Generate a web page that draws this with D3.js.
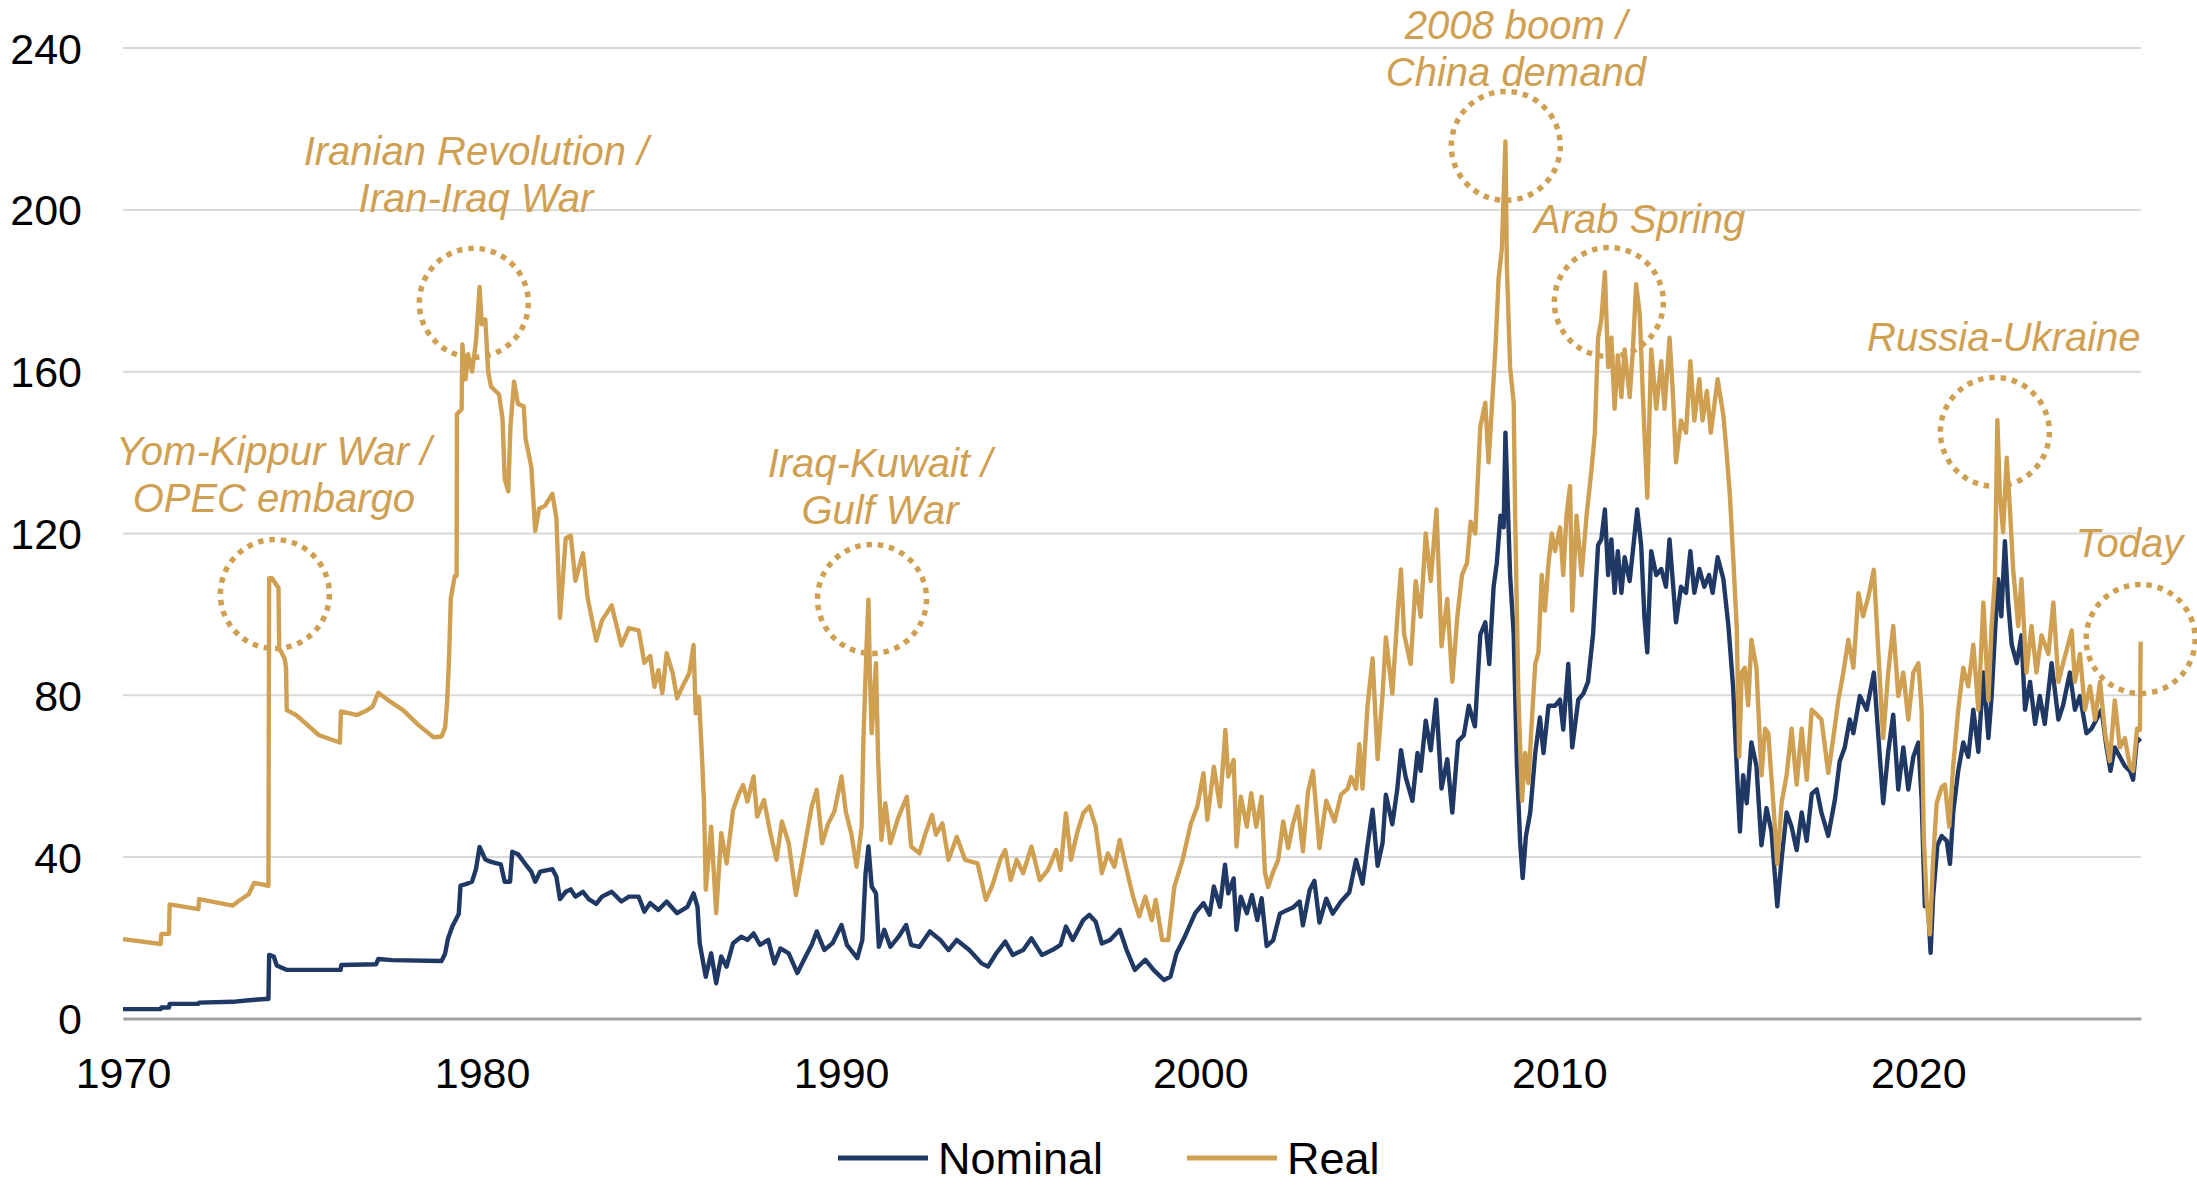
<!DOCTYPE html>
<html>
<head>
<meta charset="utf-8">
<script src="https://cdn.jsdelivr.net/npm/d3@7"></script>
<style>
  body { margin: 0; background: #fff; }
  text { font-family: Arial, "Liberation Sans", sans-serif; }
</style>
</head>
<body>
<svg id="chart"></svg>
<script>
// oil price, nominal and real ($/bbl)

var nominalYears = [1970.00,1971.05,1971.07,1971.28,1971.30,1972.10,1972.12,1973.06,1973.50,1973.97,1974.05,1974.07,1974.20,1974.28,1974.55,1976.06,1976.08,1977.05,1977.11,1977.50,1978.87,1978.97,1979.05,1979.17,1979.35,1979.40,1979.55,1979.72,1979.83,1979.93,1980.09,1980.25,1980.52,1980.63,1980.78,1980.84,1981.00,1981.21,1981.37,1981.48,1981.62,1981.96,1982.07,1982.17,1982.33,1982.47,1982.60,1982.81,1982.97,1983.18,1983.34,1983.61,1983.88,1984.09,1984.36,1984.52,1984.68,
  1984.91,1985.14,1985.43,1985.72,1985.89,1986.00,1986.06,1986.23,1986.38,1986.52,1986.66,1986.81,1986.99,1987.22,1987.39,1987.56,1987.74,1987.97,1988.14,1988.31,1988.54,1988.78,1989.01,1989.18,1989.32,1989.53,1989.76,1990.01,1990.16,1990.45,1990.59,1990.68,1990.76,1990.85,1990.97,1991.05,1991.20,1991.37,1991.60,1991.81,1991.95,1992.18,1992.47,1992.76,1992.99,1993.22,1993.57,1993.91,1994.09,1994.32,1994.57,1994.78,1995.07,1995.30,1995.59,1995.88,1996.11,1996.26,1996.45,1996.74,1996.91,1997.09,1997.26,1997.49,1997.76,1997.95,1998.18,1998.47,1998.70,1998.99,1999.17,1999.34,1999.57,1999.86,2000.09,2000.26,2000.38,2000.55,2000.69,2000.78,2000.93,2001.01,2001.13,2001.30,2001.44,2001.59,2001.71,2001.85,
  2002.03,2002.22,2002.40,2002.58,2002.77,2002.86,2003.05,2003.18,2003.32,2003.51,2003.69,2003.92,2004.15,2004.34,2004.52,2004.66,2004.80,2004.94,2005.08,2005.17,2005.35,2005.49,2005.59,2005.72,2005.91,2006.05,2006.14,2006.28,2006.42,2006.57,2006.72,2006.88,2007.02,2007.18,2007.34,2007.48,2007.65,2007.80,2007.94,2008.05,2008.17,2008.26,2008.36,2008.45,2008.50,2008.57,2008.63,2008.73,2008.82,2008.91,2008.98,2009.07,2009.19,2009.33,2009.46,2009.56,2009.70,2009.88,2010.02,2010.11,2010.25,2010.36,2010.53,2010.67,2010.80,2010.94,2011.08,2011.17,2011.27,2011.36,2011.45,2011.54,2011.63,2011.73,2011.82,2011.96,2012.10,2012.17,2012.28,2012.37,2012.45,2012.56,2012.70,2012.84,2012.97,2013.07,2013.25,2013.39,2013.53,2013.65,2013.76,2013.90,2014.04,2014.17,2014.27,2014.41,
  2014.57,2014.71,2014.84,2014.94,2015.03,2015.12,2015.22,2015.35,2015.49,2015.63,2015.77,2015.91,2016.07,2016.19,2016.33,2016.47,2016.61,2016.75,2016.89,2017.03,2017.17,2017.30,2017.49,2017.68,2017.81,2017.95,2018.09,2018.19,2018.37,2018.56,2018.76,2018.88,2019.02,2019.16,2019.30,2019.44,2019.58,2019.72,2019.86,2020.00,2020.09,2020.18,2020.27,2020.34,2020.41,2020.53,2020.65,2020.79,2020.88,2020.97,2021.11,2021.25,2021.39,2021.53,2021.67,2021.81,2021.95,2022.04,2022.13,2022.22,2022.31,2022.41,2022.50,2022.60,2022.74,2022.87,2022.97,2023.11,2023.25,2023.38,2023.52,2023.71,2023.90,2024.03,2024.22,2024.36,2024.50,2024.68,2024.82,2024.96,2025.10,2025.24,2025.35,2025.47,2025.61,2025.75,2025.89,2025.98,2026.09,2026.19];
var nominalValues = [2.3,2.3,2.7,2.7,3.6,3.6,3.9,4.1,4.5,4.8,4.8,15.7,15.3,13.1,12.0,12.0,13.2,13.4,14.7,14.4,14.2,16.0,19.7,22.7,25.8,32.8,33.2,33.8,36.9,42.4,39.3,38.7,38.1,33.8,33.8,41.2,40.6,38.1,36.3,33.8,36.3,36.9,35.0,29.5,31.3,31.9,30.1,31.3,29.5,28.3,30.1,31.3,28.9,30.1,30.1,26.4,28.5,
  26.8,28.9,26.0,27.6,30.9,27.6,18.6,10.3,16.1,8.7,15.3,12.8,18.6,20.2,19.4,21.0,18.2,19.4,13.6,17.3,16.1,11.2,15.3,18.2,21.5,16.9,18.6,23.1,18.2,14.9,19.4,35.9,42.5,32.6,30.9,17.7,21.9,17.7,20.2,23.1,18.2,17.7,21.5,19.4,16.9,19.4,16.9,13.6,12.8,16.1,19.0,15.7,16.9,19.8,15.7,16.9,18.2,22.7,19.4,24.3,25.6,23.9,18.5,19.4,21.9,16.9,12.0,14.5,12.0,9.5,10.3,16.1,20.2,26.0,28.5,25.6,32.6,27.6,38.0,30.9,34.6,21.9,30.1,26.0,30.5,24.3,29.7,17.9,
  19.3,25.9,26.7,27.4,28.9,23.0,31.8,34.0,23.7,29.6,25.9,28.9,31.1,39.2,33.3,42.8,51.6,37.7,43.5,55.3,48.0,56.8,66.3,59.7,53.8,65.6,61.2,73.6,66.3,78.8,56.8,64.1,50.9,68.5,70.0,77.3,72.2,94.9,97.9,87.6,106.7,112.6,124.3,121.4,144.8,125.8,109.6,94.9,62.6,43.5,34.7,45.0,50.9,65.6,74.4,65.6,77.3,77.3,78.8,71.4,87.6,67.0,78.8,80.3,83.2,94.9,117.0,118.4,125.8,109.6,118.4,105.2,115.5,105.2,114.0,108.1,119.9,125.8,117.0,99.3,90.5,115.5,109.6,111.1,106.7,118.4,97.9,106.7,105.2,115.5,105.2,111.1,106.7,109.6,105.2,114.0,
  108.6,97.0,82.0,62.4,46.2,60.1,53.2,68.2,62.4,42.8,52.0,46.2,27.7,39.3,50.9,47.4,41.6,50.9,43.9,55.5,56.6,50.9,45.1,54.3,63.6,67.0,73.9,70.5,79.7,76.3,85.5,70.5,53.2,65.9,75.1,56.6,67.0,56.6,64.7,68.2,54.3,27.7,27.7,16.2,30.0,42.8,45.1,43.9,38.2,50.9,61.2,68.2,64.7,76.3,65.9,85.5,69.3,79.7,94.7,108.6,99.4,118.0,102.8,92.4,87.8,94.7,76.3,83.2,72.8,79.7,72.8,87.8,73.9,77.4,85.5,76.3,79.7,70.5,71.6,73.9,76.3,67.0,61.2,67.0,64.7,62.4,61.2,59.0,69.3,68.5];

var realYears = [1970.00,1971.05,1971.07,1971.28,1971.30,1972.10,1972.12,1973.06,1973.20,1973.50,1973.65,1974.05,1974.07,1974.15,1974.33,1974.35,1974.50,1974.54,1974.56,1974.82,1975.14,1975.46,1976.04,1976.07,1976.52,1976.80,1976.95,1977.11,1977.38,1977.80,1978.23,1978.65,1978.87,1978.97,1979.03,1979.08,1979.13,1979.24,1979.29,1979.30,1979.43,1979.45,1979.54,1979.61,1979.72,1979.83,1979.93,1979.99,1980.09,1980.17,1980.25,1980.47,1980.57,1980.63,1980.73,1980.79,1980.89,1981.00,1981.16,1981.21,1981.37,1981.48,1981.59,1981.75,1981.96,1982.07,1982.17,1982.33,1982.47,1982.60,1982.81,1982.94,1983.18,1983.34,1983.61,1983.88,1984.09,1984.36,1984.52,1984.68,
  1984.80,1984.91,1985.02,1985.14,1985.31,1985.43,1985.60,1985.77,1985.89,1985.95,1986.04,1986.12,1986.18,1986.23,1986.38,1986.52,1986.66,1986.81,1986.99,1987.16,1987.27,1987.39,1987.56,1987.66,1987.85,1988.03,1988.20,1988.35,1988.54,1988.74,1988.95,1989.18,1989.32,1989.47,1989.64,1989.81,1990.01,1990.13,1990.28,1990.43,1990.57,1990.62,1990.70,1990.76,1990.80,1990.85,1990.97,1991.03,1991.12,1991.23,1991.37,1991.60,1991.83,1991.95,1992.18,1992.35,1992.53,1992.64,1992.82,1992.99,1993.22,1993.45,1993.80,1994.03,1994.20,1994.43,1994.57,1994.72,1994.89,1995.07,1995.30,1995.53,1995.76,1995.99,1996.11,1996.26,1996.40,1996.57,1996.74,1996.91,1997.09,1997.26,1997.43,1997.61,1997.76,1997.93,1998.13,1998.30,1998.47,1998.65,1998.76,1998.94,1999.11,1999.28,1999.51,1999.74,1999.92,2000.09,2000.20,2000.38,2000.55,2000.70,2000.78,2000.93,2001.01,2001.13,2001.30,2001.42,2001.56,2001.71,
  2001.80,2001.89,2002.03,2002.17,2002.31,2002.45,2002.58,2002.72,2002.86,2003.00,2003.14,2003.32,2003.51,2003.74,2003.92,2004.11,2004.20,2004.34,2004.43,2004.52,2004.66,2004.80,2004.94,2005.08,2005.17,2005.35,2005.49,2005.59,2005.68,2005.86,2006.00,2006.14,2006.28,2006.42,2006.58,2006.72,2006.88,2007.02,2007.16,2007.29,2007.43,2007.53,2007.66,2007.80,2007.94,2008.03,2008.13,2008.22,2008.31,2008.40,2008.50,2008.54,2008.63,2008.73,2008.77,2008.86,2008.96,2009.05,2009.14,2009.23,2009.33,2009.42,2009.51,2009.60,2009.70,2009.79,2009.88,2010.02,2010.11,2010.20,2010.30,2010.36,2010.48,2010.62,2010.76,2010.90,2010.99,2011.08,2011.17,2011.27,2011.36,2011.45,2011.54,2011.63,2011.73,2011.82,2011.96,2012.05,2012.14,2012.24,2012.33,2012.45,2012.56,2012.70,2012.84,2012.93,2013.07,2013.16,2013.25,2013.39,2013.53,2013.65,2013.76,2013.90,2013.99,2014.11,2014.22,2014.41,
  2014.57,2014.66,2014.75,2014.84,2014.94,2015.01,2015.08,2015.17,2015.26,2015.35,2015.49,2015.63,2015.73,2015.82,2015.96,2016.07,2016.19,2016.33,2016.47,2016.61,2016.75,2016.89,2017.03,2017.17,2017.30,2017.49,2017.63,2017.77,2017.91,2018.05,2018.19,2018.33,2018.46,2018.60,2018.76,2018.88,2019.02,2019.16,2019.30,2019.44,2019.58,2019.72,2019.86,2020.00,2020.09,2020.15,2020.23,2020.32,2020.41,2020.51,2020.65,2020.74,2020.86,2020.97,2021.11,2021.25,2021.39,2021.53,2021.67,2021.81,2021.95,2022.04,2022.13,2022.20,2022.27,2022.36,2022.46,2022.55,2022.64,2022.78,2022.87,2023.01,2023.15,2023.29,2023.43,2023.62,2023.76,2023.90,2024.03,2024.17,2024.27,2024.36,2024.50,2024.64,2024.78,2024.92,2025.06,2025.20,2025.33,2025.47,2025.61,2025.75,2025.89,2025.98,2026.09,2026.17,2026.19];
var realValues = [19.6,18.4,20.9,20.9,28.2,27.0,29.5,27.9,28.9,30.7,33.5,32.8,108.8,108.8,106.4,91.6,89.0,86.7,76.2,75.0,72.5,70.0,68.2,75.9,75.0,76.2,77.1,80.5,78.7,76.2,72.5,69.5,69.7,71.9,78.7,89.1,103.9,109.4,109.4,149.4,150.6,166.6,158.0,164.2,159.9,167.2,180.8,171.6,172.8,159.9,156.2,154.3,148.2,133.4,130.3,146.3,157.4,151.9,151.3,143.3,136.5,120.5,126.0,126.7,129.7,123.6,99.0,118.7,119.3,108.2,115.0,103.9,93.4,98.4,102.1,92.2,96.5,95.9,87.9,89.6,
  82.0,86.1,80.4,90.3,85.3,79.1,82.4,85.3,92.3,75.4,79.5,65.5,53.2,31.8,47.4,26.0,45.8,38.3,51.5,55.7,57.7,53.6,59.8,49.9,54.0,45.8,39.2,48.7,43.3,30.5,40.8,52.4,56.5,43.3,48.2,51.1,59.8,51.1,45.8,37.5,47.4,68.8,90.3,103.5,85.0,70.5,87.8,63.9,44.1,53.2,43.3,49.9,54.8,42.5,40.8,45.8,50.3,45.4,48.2,39.2,44.9,39.2,38.3,29.3,32.6,39.2,41.6,34.2,39.2,35.9,42.5,34.2,36.7,41.6,36.7,50.7,39.2,45.8,50.7,52.4,47.4,35.9,40.8,37.5,44.1,37.5,30.1,25.2,30.1,24.3,29.3,19.4,19.4,32.6,39.2,48.2,52.4,60.6,49.1,62.2,52.4,71.3,59.8,63.9,42.5,54.8,47.4,55.7,47.4,54.8,
  36.2,32.5,36.2,39.1,48.7,42.1,48.0,52.4,41.3,56.0,61.2,42.1,53.8,48.7,55.3,56.8,59.7,56.8,67.8,56.8,77.3,89.0,64.1,80.3,94.2,80.3,99.3,111.0,94.9,87.6,108.1,99.3,119.9,108.1,125.8,92.0,103.7,83.2,99.3,109.6,112.6,122.8,119.9,146.3,152.2,137.5,152.2,165.4,183.0,190.3,216.8,185.9,161.0,152.2,124.3,80.3,53.8,65.6,58.2,72.9,87.6,90.5,109.6,100.8,112.6,119.9,115.5,121.4,109.6,124.3,131.6,100.8,124.3,109.6,124.3,136.0,144.8,168.3,172.7,184.5,161.0,168.3,150.7,163.9,153.6,165.4,153.6,165.4,181.5,174.2,153.6,128.7,165.4,150.7,162.5,150.7,168.3,155.1,137.5,147.8,144.8,162.5,147.8,158.0,147.8,155.1,144.8,158.0,
  149.0,139.8,129.4,114.4,97.0,64.7,85.5,86.7,77.4,93.6,86.7,60.1,71.6,70.5,53.2,38.2,53.2,60.1,71.6,57.8,71.6,59.0,76.3,75.1,73.9,60.7,69.3,78.6,85.5,93.6,86.7,105.1,99.4,104.0,110.9,91.3,69.3,85.5,97.0,79.7,85.5,73.9,85.5,87.8,76.3,45.1,28.9,20.8,39.3,53.2,57.2,57.8,47.4,62.4,76.3,86.7,82.1,92.4,76.3,102.8,78.6,97.0,108.6,147.9,129.4,120.2,138.6,125.9,110.9,97.0,108.6,85.5,97.0,85.5,94.7,90.1,102.8,83.2,87.8,92.4,95.9,83.2,90.1,76.3,82.1,73.9,83.2,70.5,63.6,78.6,67.0,69.3,62.4,61.2,71.6,71.3,93.1];

var seriesNames = ["Nominal", "Real"];
var seriesColors = ["#1F3864", "#CFA052"];

var yTicks = [0, 40, 80, 120, 160, 200, 240];
var xTicks = [1970, 1980, 1990, 2000, 2010, 2020];

// events: circle centre (year, value) and label anchor (year, value of first baseline)
var eventLabels = [
  ["Yom-Kippur War /", "OPEC embargo"],
  ["Iranian Revolution /", "Iran-Iraq War"],
  ["Iraq-Kuwait /", "Gulf War"],
  ["2008 boom /", "China demand"],
  ["Arab Spring"],
  ["Russia-Ukraine"],
  ["Today"]
];
var eventYears  = [1974.23, 1979.77, 1990.86, 2008.51, 2011.38, 2022.13, 2026.19];
var eventValues = [104.9, 176.9, 103.7, 215.7, 177.1, 145.0, 93.8];
var labelYears  = [1974.20, 1979.83, 1991.08, 2008.79, 2012.24, 2022.38, 2025.88];
var labelValues = [136.7, 211.0, 133.8, 242.1, 194.2, 165.0, 114.1];

// layout
var svgWidth = 2197, svgHeight = 1192;
var plotLeft = 123, plotRight = 2141, plotTop = 47.6, plotBottom = 1018.4;

var svg = d3.select('#chart')
    .attr('width', svgWidth)
    .attr('height', svgHeight);

var x = d3.scaleLinear().domain([1970, 2026.2]).range([plotLeft, plotRight]);
var y = d3.scaleLinear().domain([0, 240]).range([plotBottom, plotTop]);

// gridlines + y labels
var yAxis = svg.append('g')
    .attr('transform', 'translate(' + plotLeft + ',0)')
    .call(d3.axisLeft(y).tickValues(yTicks).tickSize(-(plotRight - plotLeft)).tickPadding(41));
yAxis.select('.domain').remove();
yAxis.selectAll('line').attr('stroke', '#d9d9d9').attr('stroke-width', 2);
yAxis.selectAll('text')
    .attr('font-size', 43)
    .attr('fill', '#000')
    .attr('dy', '0.36em');

// x axis
var xAxis = svg.append('g')
    .attr('transform', 'translate(0,' + plotBottom + ')')
    .call(d3.axisBottom(x).tickValues(xTicks).tickFormat(d3.format('d')).tickSize(0).tickPadding(39));
xAxis.select('.domain').attr('stroke', '#a0a0a0').attr('stroke-width', 3);
xAxis.selectAll('text').attr('font-size', 43).attr('fill', '#000');

// lines
var line = d3.line()
    .x(function(d){ return x(d[0]); })
    .y(function(d){ return y(d[1]); });

var series = [
    d3.zip(nominalYears, nominalValues),
    d3.zip(realYears, realValues)
];

svg.selectAll('path.series')
    .data(series)
    .enter()
    .append('path')
    .attr('class', 'series')
    .attr('d', line)
    .attr('fill', 'none')
    .attr('stroke', function(d, i){ return seriesColors[i]; })
    .attr('stroke-width', 4.4)
    .attr('stroke-linejoin', 'round');

// event circles
svg.selectAll('circle.event')
    .data(eventYears)
    .enter()
    .append('circle')
    .attr('class', 'event')
    .attr('cx', function(d){ return x(d); })
    .attr('cy', function(d, i){ return y(eventValues[i]); })
    .attr('r', 54.5)
    .attr('fill', 'none')
    .attr('stroke', seriesColors[1])
    .attr('stroke-width', 5.5)
    .attr('stroke-dasharray', '5.5,5.9');

// event labels
var labels = svg.selectAll('text.event')
    .data(eventLabels)
    .enter()
    .append('text')
    .attr('class', 'event')
    .attr('x', function(d, i){ return x(labelYears[i]); })
    .attr('y', function(d, i){ return y(labelValues[i]); })
    .attr('text-anchor', 'middle')
    .attr('font-size', 40)
    .attr('font-style', 'italic')
    .attr('fill', seriesColors[1]);

labels.selectAll('tspan')
    .data(function(d){ return d; })
    .enter()
    .append('tspan')
    .attr('x', function(){ return d3.select(this.parentNode).attr('x'); })
    .attr('dy', function(d, i){ return i ? 47 : 0; })
    .text(function(d){ return d; });

// legend
var legendX = [838, 1187];
var legend = svg.selectAll('g.legend')
    .data(seriesNames)
    .enter()
    .append('g')
    .attr('class', 'legend')
    .attr('transform', function(d, i){ return 'translate(' + legendX[i] + ',1158)'; });

legend.append('line')
    .attr('x1', 0).attr('x2', 90)
    .attr('stroke', function(d, i){ return seriesColors[i]; })
    .attr('stroke-width', 5);

legend.append('text')
    .attr('x', 100)
    .attr('dy', 16)
    .attr('font-size', 45)
    .attr('fill', '#000')
    .text(function(d){ return d; });
</script>
</body>
</html>
